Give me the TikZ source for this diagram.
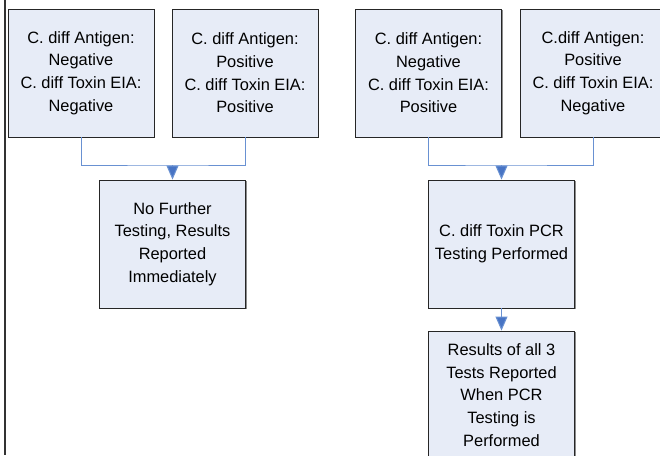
\documentclass[tikz,border=0pt]{standalone}
\usepackage{fontspec}
\setmainfont{Liberation Sans}
\usetikzlibrary{arrows.meta,shadows}
\definecolor{boxfill}{RGB}{231,236,247}
\definecolor{connblue}{RGB}{105,145,210}
\definecolor{tipblue}{RGB}{72,116,196}
\begin{document}
\begin{tikzpicture}[x=1pt,y=-1pt,
  box/.style={draw=black!85, line width=0.9pt, fill=boxfill,
    minimum width=146pt, minimum height=128pt, inner sep=0pt,
    align=center, font=\fontsize{16.4}{22.6}\selectfont,
    drop shadow={shadow xshift=1.4pt, shadow yshift=-1.4pt, fill=black!45, opacity=1}},
  conn/.style={draw=connblue, line width=1pt},
  arr/.style={conn, -{Triangle[length=14pt,width=12pt,fill=tipblue]}}]
\useasboundingbox (0,0) rectangle (660,455);
\clip (0,0) rectangle (660,455);
\fill[white] (0,0) rectangle (660,455);
\draw[line width=2.2pt, black!80] (5,0) -- (5,455);
\node[box] (a1) at (81,73) {C. diff Antigen:\\Negative\\C. diff Toxin EIA:\\Negative};
\node[box] (a2) at (245,73) {C. diff Antigen:\\Positive\\C. diff Toxin EIA:\\Positive};
\node[box] (b1) at (428.5,73) {C. diff Antigen:\\Negative\\C. diff Toxin EIA:\\Positive};
\node[box] (b2) at (593,73) {C.diff Antigen:\\Positive\\C. diff Toxin EIA:\\Negative};
\node[box] (nf) at (172.5,244) {No Further\\Testing, Results\\Reported\\Immediately};
\node[box] (pcr) at (501.5,244) {C. diff Toxin PCR\\Testing Performed};
\node[box] (res) at (501.5,395) {Results of all 3\\Tests Reported\\When PCR\\Testing is\\Performed};
\coordinate (jl) at (172.5,165);
\coordinate (jr) at (501.5,165);
\draw[conn] (a1.south) |- (jl) -| (a2.south);
\draw[arr] (jl) -- (nf.north);
\draw[conn] (b1.south) |- (jr) -| (b2.south);
\draw[arr] (jr) -- (pcr.north);
\draw[arr] (pcr.south) -- (res.north);
\end{tikzpicture}
\end{document}
